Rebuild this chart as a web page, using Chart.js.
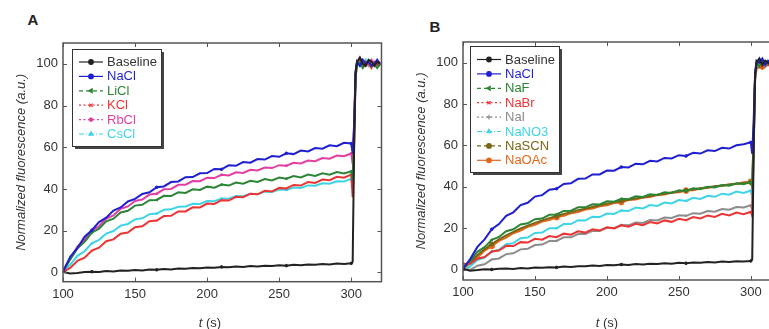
<!DOCTYPE html>
<html>
<head>
<meta charset="utf-8">
<script src="https://cdn.jsdelivr.net/npm/chart.js@4"></script>
<style>
  html, body { margin: 0; padding: 0; overflow: hidden; background: #fff; width: 769px; height: 329px; }
  canvas { position: absolute; top: 0; }
  .panel { position: absolute; font: bold 15px Arial, "Liberation Sans", sans-serif; color: #222; transform: translate(-50%, -50%); }
  .xtitle { position: absolute; font: 13px Arial, "Liberation Sans", sans-serif; color: #333; transform: translate(-50%, -50%); white-space: nowrap; }
</style>
</head>
<body>
<div class="panel" style="left:33px; top:19px">A</div>
<div class="panel" style="left:435px; top:26px">B</div>
<canvas id="chartA" width="390" height="329" style="left:0"></canvas>
<canvas id="chartB" width="390" height="329" style="left:400px"></canvas>
<div class="xtitle" style="left:210px; top:322px"><i>t</i> (s)</div>
<div class="xtitle" style="left:607px; top:322px"><i>t</i> (s)</div>
<script>
// time (s), shared by every trace
const times = [100,105,110,115,120,125,130,135,140,145,150,155,160,165,170,175,180,185,190,195,
  200,205,210,215,220,225,230,235,240,245,250,255,260,265,270,275,280,285,290,295,300,
  301,302,303,304,306,308,310,312,314,316,318,320];
const markerTimes = [120, 165, 210, 255, 300];
const xTickValues = [100, 150, 200, 250, 300];
const yTickValues = [0, 20, 40, 60, 80, 100];

// panel A: chloride salts
const aBaseline = [0.2,-0.6,-0.3,0.1,0.3,0.2,0.6,0.4,0.9,0.7,1.1,0.9,1.3,1.2,1.6,1.4,1.8,1.7,2.1,1.9,2.3,2.2,2.6,2.4,2.8,2.6,3.0,2.8,3.2,3.0,3.4,3.2,3.6,3.4,3.8,3.6,4.0,3.8,4.2,4.0,4.3,
  5,60,96,101,103,100,99,102,101,99,101,100];
const aNaCl = [0.3,7.4,11.6,17.1,20.2,24.1,26.2,29.6,31.1,34.0,35.2,37.6,38.4,40.8,41.2,43.3,43.6,45.6,45.7,47.5,47.6,49.6,49.4,51.3,51.1,52.9,52.6,54.3,54.1,55.8,55.4,57.1,56.7,58.4,58.0,59.6,59.3,60.9,60.5,62.1,61.8,
  57,70,96,101,99,102,100,101,99,100,102,100];
const aLiCl = [0.4,6.1,11.5,14.6,19.0,20.9,24.5,25.7,28.7,29.5,32.0,32.4,34.6,34.7,36.7,36.6,38.4,38.1,39.8,39.5,41.1,40.6,42.1,41.6,43.1,42.5,43.9,43.3,44.7,44.1,45.5,44.9,46.2,45.5,46.9,46.2,47.5,46.8,48.1,47.4,48.5,
  44,68,94,99,101,98,100,101,99,100,98,100];
const aKCl = [0.2,2.1,5.5,7.0,10.4,11.8,14.9,15.8,18.5,19.1,21.6,22.1,24.5,24.8,27.0,27.1,29.2,29.2,31.2,31.1,33.0,32.8,34.6,34.4,36.2,36.0,37.7,37.4,39.1,38.8,40.5,40.2,41.9,41.6,43.3,42.9,44.5,44.2,45.8,45.4,46.9,
  36,60,93,100,102,99,101,100,98,101,100,99];
const aRbCl = [0.9,6.6,12.3,15.6,20.0,22.1,25.8,27.3,30.5,31.6,34.2,34.9,37.3,37.7,39.8,40.0,42.0,42.0,43.8,43.7,45.4,45.2,46.8,46.5,48.0,47.7,49.2,48.9,50.3,50.0,51.4,51.1,52.5,52.2,53.6,53.3,54.8,54.5,56.0,55.7,57.0,
  52,72,95,100,103,101,99,100,102,100,99,101];
const aCsCl = [0.9,3.6,7.9,10.1,13.9,15.6,18.6,19.8,22.4,23.2,25.4,25.9,27.9,28.2,30.0,30.2,31.4,31.6,32.9,32.8,34.2,34.1,35.4,35.3,36.6,36.5,37.7,37.5,38.7,38.5,39.7,39.5,40.7,40.5,41.7,41.5,42.7,42.5,43.7,43.6,44.8,
  40,64,95,101,99,100,102,99,101,100,99,100];

// panel B: sodium salts
const bBaseline = [0.3,-0.5,-0.2,0.2,0.1,0.4,0.5,0.3,0.8,0.6,1.0,0.9,1.2,1.1,1.5,1.3,1.7,1.6,2.0,1.8,2.2,2.1,2.5,2.3,2.7,2.5,2.9,2.7,3.1,2.9,3.3,3.1,3.5,3.3,3.7,3.5,3.9,3.7,4.1,3.9,4.2,
  5,58,94,100,102,99,101,100,99,101,100,99];
const bNaCl = [0.5,5.1,11.0,14.6,19.5,22.0,26.0,27.7,31.2,32.3,35.3,36.0,38.6,39.1,41.4,41.7,43.9,44.0,46.0,46.0,47.9,47.8,49.6,49.4,51.2,50.9,52.6,52.3,54.0,53.7,55.3,54.9,56.5,56.1,57.7,57.3,58.9,58.5,60.1,60.6,61.5,
  56,72,95,101,100,102,99,101,100,99,101,100];
const bNaF = [1.3,4.1,8.6,10.9,14.4,15.8,18.6,19.5,21.8,22.4,24.4,24.7,26.5,26.7,28.4,28.5,30.1,30.1,31.6,31.5,33.0,32.8,34.2,34.0,35.4,35.1,36.4,36.1,37.4,37.1,38.4,38.0,39.3,38.9,40.1,39.7,40.9,40.5,41.7,41.3,42.3,
  40,66,94,100,98,101,99,100,98,100,99,100];
const bNaBr = [2.8,2.8,5.3,6.1,8.8,9.2,11.5,11.4,13.3,13.1,14.9,14.5,16.2,15.7,17.4,16.9,18.5,17.9,19.5,18.9,20.5,19.9,21.4,20.7,22.2,21.5,23.0,22.3,23.8,23.1,24.6,23.9,25.4,24.7,26.2,25.5,27.0,26.2,27.6,26.8,28.0,
  26,58,93,99,101,98,100,99,101,98,100,99];
const bNaI = [0.3,-0.1,1.9,2.6,4.9,5.4,7.5,7.9,9.8,10.1,11.9,12.1,13.8,13.9,15.6,15.6,17.2,17.2,18.8,18.7,20.2,20.1,21.6,21.4,22.8,22.6,24.0,23.8,25.2,25.0,26.3,26.0,27.3,27.0,28.3,28.0,29.3,29.0,30.3,30.0,31.1,
  29,60,92,99,101,100,98,100,99,101,100,98];
const bNaNO3 = [-0.5,1.6,4.7,5.8,8.8,9.6,12.3,12.8,15.2,15.5,17.7,17.9,20.0,20.0,22.0,22.0,23.9,23.8,25.6,25.4,27.1,26.9,28.6,28.3,30.0,29.6,31.2,30.8,32.4,32.0,33.6,33.2,34.7,34.2,35.7,35.2,36.7,36.2,37.7,37.1,38.2,
  35,62,94,100,102,99,101,100,102,99,100,101];
const bNaSCN = [0.6,3.6,7.0,9.9,12.4,14.6,16.6,18.3,19.9,21.3,22.6,23.8,24.9,25.9,26.9,27.8,28.7,29.5,30.3,31.1,31.8,32.5,33.2,33.8,34.4,35.0,35.6,36.2,36.7,37.3,37.8,38.3,38.8,39.3,39.8,40.3,40.7,41.1,41.5,41.9,42.2,
  40,65,93,99,100,98,100,99,100,98,99,100];
const bNaOAc = [0.2,3.2,5.8,9.2,11.4,13.9,15.5,17.6,18.9,20.7,21.7,23.2,24.0,25.3,26.0,27.2,27.8,29.0,29.5,30.6,31.1,32.2,32.6,33.6,33.9,34.8,35.1,36.0,36.3,37.2,37.4,38.2,38.4,39.2,39.4,40.2,40.4,41.2,41.4,42.2,42.5,
  40,64,92,97,98,97,98,99,98,97,98,98];

const FONT = 'Arial, "Liberation Sans", sans-serif';
const COLORS = {
  black: '#222222', blue: '#1f1fd2', green: '#2b8535', red: '#ec3434',
  magenta: '#e33ea2', cyan: '#3fd3e6', gray: '#8c8c8c', olive: '#7a6516', orange: '#e4661a'
};

function trace(label, values, color, pointStyle, legendDash, markerSize) {
  return {
    label: label,
    data: values.map((v, i) => ({ x: times[i], y: v })),
    borderColor: color,
    backgroundColor: color,
    borderWidth: 2,
    tension: 0,
    pointStyle: pointStyle,
    pointRotation: pointStyle === 'triangle' && legendDash.length === 2 ? -90 : 0,
    pointRadius: ctx => markerTimes.includes(times[ctx.dataIndex]) ? markerSize : 0,
    pointBorderWidth: 1,
    legendDash: legendDash
  };
}

// box frame + inward ticks
const framePlugin = {
  id: 'frame',
  afterDraw(chart) {
    const { ctx, chartArea: a, scales: { x, y } } = chart;
    ctx.save();
    ctx.strokeStyle = '#555';
    ctx.lineWidth = 1.5;
    ctx.strokeRect(a.left, a.top, a.right - a.left, a.bottom - a.top);
    ctx.lineWidth = 1;
    ctx.beginPath();
    x.ticks.forEach(t => {
      const px = Math.round(x.getPixelForValue(t.value)) + 0.5;
      ctx.moveTo(px, a.bottom); ctx.lineTo(px, a.bottom - 4);
      ctx.moveTo(px, a.top); ctx.lineTo(px, a.top + 4);
    });
    y.ticks.forEach(t => {
      const py = Math.round(y.getPixelForValue(t.value)) + 0.5;
      ctx.moveTo(a.left, py); ctx.lineTo(a.left + 4, py);
      ctx.moveTo(a.right, py); ctx.lineTo(a.right - 4, py);
    });
    ctx.stroke();
    ctx.restore();
  }
};

// legend box with drop shadow, drawn inside the plot
const boxLegendPlugin = {
  id: 'boxLegend',
  afterDraw(chart, args, opts) {
    const { ctx } = chart;
    const { x, y, w, h, first, rowH } = opts;
    ctx.save();
    ctx.fillStyle = '#444';
    ctx.fillRect(x + 3, y + 3, w, h);
    ctx.fillStyle = '#fff';
    ctx.fillRect(x, y, w, h);
    ctx.strokeStyle = '#333';
    ctx.lineWidth = 1;
    ctx.strokeRect(x + 0.5, y + 0.5, w, h);
    chart.data.datasets.forEach((ds, i) => {
      const cy = y + first + i * rowH;
      ctx.strokeStyle = ds.borderColor;
      ctx.lineWidth = 1.2;
      ctx.setLineDash(ds.legendDash);
      ctx.beginPath();
      ctx.moveTo(x + 7, cy);
      ctx.lineTo(x + 31, cy);
      ctx.stroke();
      ctx.setLineDash([]);
      ctx.fillStyle = ds.borderColor;
      Chart.helpers.drawPoint(ctx, {
        pointStyle: ds.pointStyle, radius: 2.3, rotation: ds.pointRotation, borderWidth: 1
      }, x + 19, cy);
      ctx.fillStyle = ds.label === 'Baseline' ? '#333' : ds.borderColor;
      ctx.font = '13px ' + FONT;
      ctx.textBaseline = 'middle';
      ctx.textAlign = 'left';
      ctx.fillText(ds.label, x + 35, cy + 0.5);
    });
    ctx.restore();
  }
};

function makeChart(id, datasets, area, legendBox) {
  return new Chart(document.getElementById(id), {
    type: 'line',
    data: { datasets: datasets },
    options: {
      responsive: false,
      animation: false,
      devicePixelRatio: 1,
      layout: { padding: { top: area.top, right: area.right, left: 0, bottom: 0 } },
      plugins: {
        legend: { display: false },
        tooltip: { enabled: false },
        boxLegend: legendBox
      },
      scales: {
        x: {
          type: 'linear',
          min: 100,
          max: 321,
          afterBuildTicks: s => { s.ticks = xTickValues.map(v => ({ value: v })); },
          afterFit: s => { s.height = area.xHeight; },
          grid: { display: false, drawTicks: false, tickLength: 0 },
          border: { display: false },
          ticks: { color: '#333', font: { family: FONT, size: 13 }, padding: 5, maxRotation: 0 }
        },
        y: {
          min: area.yMin,
          max: 110,
          afterBuildTicks: s => { s.ticks = yTickValues.map(v => ({ value: v })); },
          afterFit: s => { s.width = 63; },
          grid: { display: false, drawTicks: false, tickLength: 0 },
          border: { display: false },
          ticks: { color: '#333', font: { family: FONT, size: 13 }, padding: 5 },
          title: {
            display: true,
            text: 'Normalized fluorescence (a.u.)',
            color: '#333',
            font: { family: FONT, size: 13, style: 'italic' },
            padding: { top: 14, bottom: 0 }
          }
        }
      }
    },
    plugins: [framePlugin, boxLegendPlugin]
  });
}

makeChart('chartA', [
  trace('Baseline', aBaseline, COLORS.black, 'circle', [], 1.3),
  trace('NaCl', aNaCl, COLORS.blue, 'circle', [], 1.3),
  trace('LiCl', aLiCl, COLORS.green, 'triangle', [4, 3], 1.3),
  trace('KCl', aKCl, COLORS.red, 'crossRot', [2, 2.5], 1.3),
  trace('RbCl', aRbCl, COLORS.magenta, 'star', [2, 2.5], 1.3),
  trace('CsCl', aCsCl, COLORS.cyan, 'triangle', [5, 2, 1, 2], 1.3)
], { top: 43, right: 8.5, xHeight: 47.3, yMin: -4.5 },
   { x: 72, y: 49, w: 89, h: 97, first: 13, rowH: 14.4 });

makeChart('chartB', [
  trace('Baseline', bBaseline, COLORS.black, 'circle', [], 1.3),
  trace('NaCl', bNaCl, COLORS.blue, 'circle', [], 1.3),
  trace('NaF', bNaF, COLORS.green, 'triangle', [4, 3], 1.3),
  trace('NaBr', bNaBr, COLORS.red, 'crossRot', [2, 2.5], 1.3),
  trace('NaI', bNaI, COLORS.gray, 'cross', [2, 2.5], 1.3),
  trace('NaNO3', bNaNO3, COLORS.cyan, 'triangle', [5, 2, 1, 2], 1.3),
  trace('NaSCN', bNaSCN, COLORS.olive, 'circle', [4, 3], 2),
  trace('NaOAc', bNaOAc, COLORS.orange, 'circle', [], 2.8)
], { top: 42, right: 9, xHeight: 49, yMin: -5 },
   { x: 70, y: 46, w: 89, h: 126, first: 13.5, rowH: 14.4 });
</script>
</body>
</html>
